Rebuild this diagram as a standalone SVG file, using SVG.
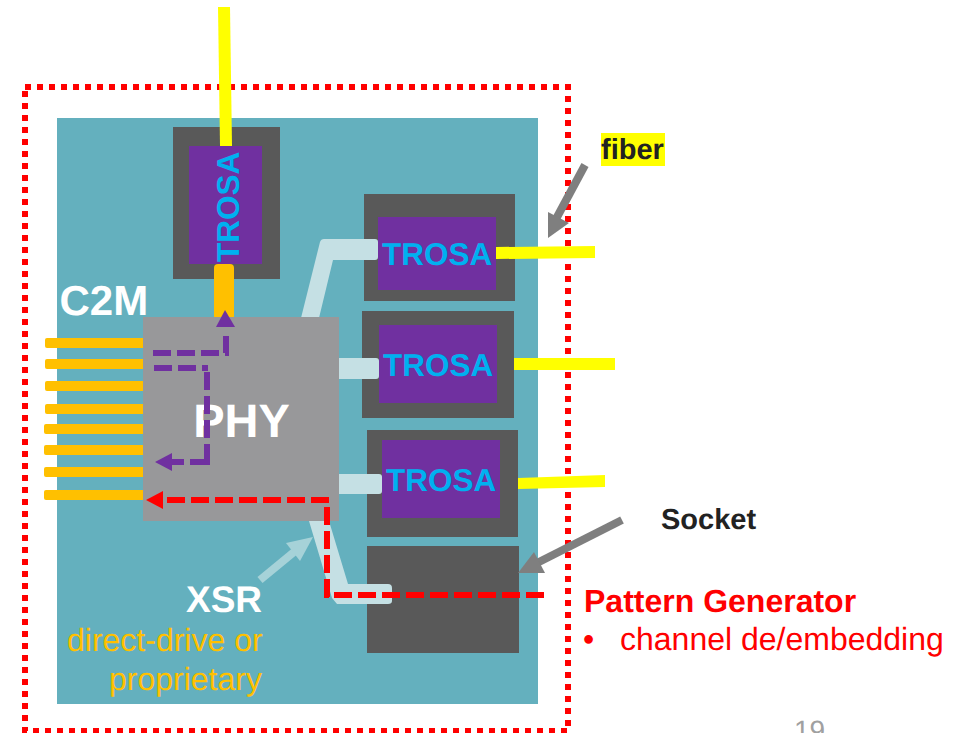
<svg xmlns="http://www.w3.org/2000/svg" width="960" height="733" viewBox="0 0 960 733">
<style>
text{font-family:"Liberation Sans",Arial,sans-serif;text-rendering:geometricPrecision}
.sock{fill:#595959}.pur{fill:#7030a0}
.tl{font-size:31.500px;font-weight:bold;fill:#00b0f0}
.or{fill:#ffc000}.ye{fill:#ffff00}.lb{fill:#c5e0e4}
.pd{fill:none;stroke:#7030a0;stroke-width:6;stroke-dasharray:18 6}
.ps{fill:none;stroke:#7030a0;stroke-width:6}
.rd{fill:none;stroke:#ff0000;stroke-width:6;stroke-dasharray:18 6}
.ga{fill:none;stroke:#7f7f7f;stroke-width:8}
</style>
<rect width="960" height="733" fill="#fff"/>
<rect id="board" x="57" y="118" width="481" height="586" fill="#64b0be"/>
<path id="boundary" d="M25,87 H568 V731 H25 Z" fill="none" stroke="#ff0000" stroke-width="6" stroke-dasharray="6 6"/>
<g id="socket-top"><rect class="sock" x="173" y="127" width="107" height="152"/><rect class="pur" x="189" y="146" width="73" height="118"/><text class="tl" transform="translate(238.500,262) rotate(-90)">TROSA</text></g>
<g id="socket-1"><rect class="sock" x="364" y="194" width="151" height="107"/><rect class="pur" x="378" y="217" width="118" height="73"/><text class="tl" x="382" y="265">TROSA</text></g>
<g id="socket-2"><rect class="sock" x="362" y="311" width="152" height="107"/><rect class="pur" x="379" y="325" width="118" height="78"/><text class="tl" x="383" y="375.500">TROSA</text></g>
<g id="socket-3"><rect class="sock" x="367" y="430" width="151" height="107"/><rect class="pur" x="382" y="440" width="118" height="78"/><text class="tl" x="386" y="491">TROSA</text></g>
<g id="socket-empty"><rect class="sock" x="367" y="546" width="152" height="107"/></g>
<g id="connectors">
<path class="lb" d="M301,318 L320,242 Q321,239 324,239 H375 Q378,239 378,242 V257 Q378,260 375,260 H333 L319,318 Z"/>
<rect class="lb" x="335" y="358" width="44" height="21" rx="3"/>
<rect class="lb" x="335" y="474" width="47" height="20" rx="3"/>
<path class="lb" d="M309,521 H329 L348,584 H388 Q392,584 392,588 V601 Q392,604 388,604 H337 L332,598 Z"/>
<rect class="or" x="214" y="264" width="20" height="56" rx="4"/>
<g class="or">
<rect x="45" y="338" width="100" height="10" rx="2"/>
<rect x="45" y="359" width="100" height="10" rx="2"/>
<rect x="45" y="381" width="100" height="10" rx="2"/>
<rect x="45" y="404" width="100" height="10" rx="2"/>
<rect x="44" y="424" width="101" height="10" rx="2"/>
<rect x="44" y="445" width="101" height="10" rx="2"/>
<rect x="44" y="467" width="101" height="10" rx="2"/>
<rect x="44" y="490" width="101" height="10" rx="2"/>
</g>
<polygon class="ye" points="218,7 230,7 232,146 220,146"/>
<polygon class="ye" points="496,247 595,246 595,258 496,259"/>
<rect class="ye" x="514" y="358" width="101" height="12"/>
<polygon class="ye" points="518,478 605,475 605,487 518,489"/>
</g>
<g id="phy"><rect x="143" y="317" width="196" height="204" fill="#98989a"/><text x="241.500" y="437" text-anchor="middle" font-size="47" font-weight="bold" fill="#fff">PHY</text></g>
<g id="paths">
<path d="M153,353 H226 V336" class="pd"/>
<path d="M225,310 L235,327 H216 Z" fill="#7030a0"/>
<path d="M154,368 H208" class="pd"/>
<path d="M207,372 V438" class="pd"/>
<path d="M207,444 V462 H190" class="ps"/>
<path d="M184,462 H172" class="ps"/>
<path d="M155,462 L172,453 V471 Z" fill="#7030a0"/>
<path d="M327,597 V507" class="rd"/>
<path d="M329,500 H165" class="rd"/>
<path d="M146,500 L163,491 V509 Z" fill="#ff0000"/>
<path d="M334,595 H544" class="rd"/>
<path d="M324,595 H329" stroke="#ff0000" stroke-width="6"/>
</g>
<g id="callouts">
<path d="M585,165 L556,219" class="ga"/>
<path d="M548,238 V212 L569,223 Z" fill="#7f7f7f"/>
<path d="M622,520 L535,564" class="ga"/>
<path d="M518,573 L534,552 L545,573 Z" fill="#7f7f7f"/>
<path d="M260,580 L294,552" stroke="#a6d2d8" stroke-width="8" fill="none"/>
<path d="M313,537 L286,543 L300,561 Z" fill="#a6d2d8"/>
</g>
<g id="labels">
<rect x="601" y="133" width="64" height="33" fill="#ffff00"/>
<text x="601" y="159" font-size="29" font-weight="bold" fill="#222">fiber</text>
<text x="661" y="529" font-size="29" font-weight="bold" fill="#222">Socket</text>
<text x="59.500" y="315" font-size="42" font-weight="bold" fill="#fff">C2M</text>
<text x="186" y="612" font-size="37" font-weight="bold" fill="#fff">XSR</text>
<text x="67" y="651" font-size="32" fill="#ffc000">direct-drive or</text>
<text x="109" y="690" font-size="32" fill="#ffc000">proprietary</text>
<text x="584" y="612" font-size="32" font-weight="bold" fill="#ff0000">Pattern Generator</text>
<text x="583" y="650" font-size="32" fill="#ff0000">•</text>
<text x="620" y="650" font-size="32" fill="#ff0000">channel de/embedding</text>
<text x="794" y="740" font-size="28" fill="#a0a0a0">19</text>
</g>
</svg>
